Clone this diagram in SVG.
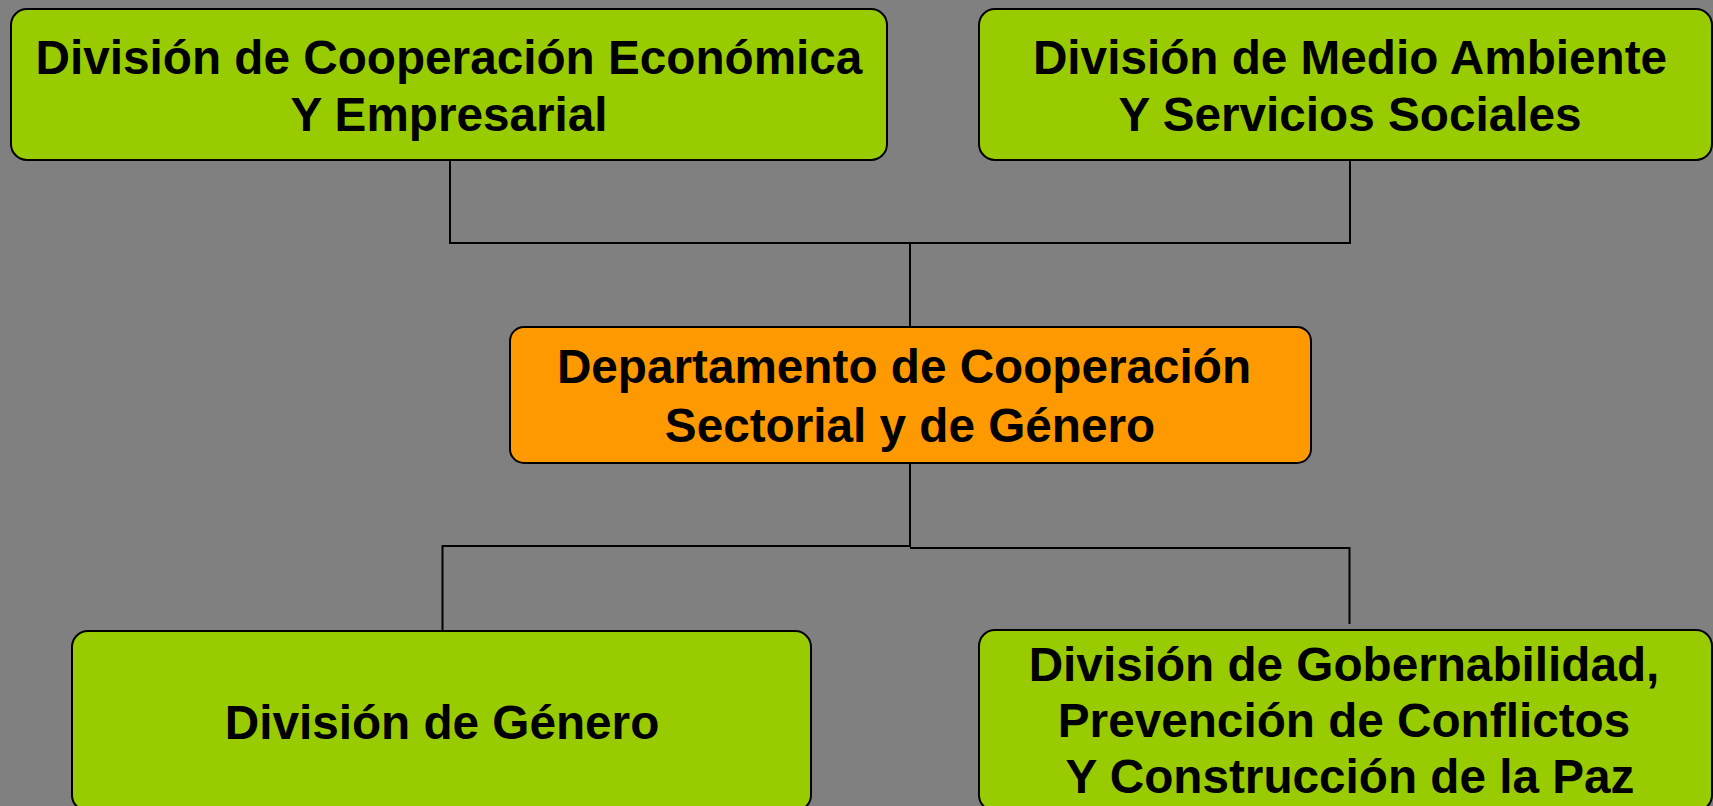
<svg xmlns="http://www.w3.org/2000/svg" width="1713" height="806" viewBox="0 0 1713 806">
<style>
.g{fill:#99cc00;stroke:#000;stroke-width:2}
.o{fill:#ff9900;stroke:#000;stroke-width:2}
.t{font-family:"Liberation Sans",Arial,sans-serif;font-weight:bold;font-size:47.7px;fill:#000;text-anchor:middle}
.c{fill:none;stroke:#000;stroke-width:2}
</style>
<rect width="1713" height="806" fill="#808080"/>
<g id="connectors">
<path class="c" d="M450,160 V243 H1350 V160"/>
<path class="c" d="M910,243 V327"/>
<path class="c" d="M910,456 V547"/>
<path class="c" d="M910,546 H442.5 V631"/>
<path class="c" d="M910,548 H1349.5 V624"/>
</g>
<g id="n1">
<rect class="g" x="11" y="9" width="876" height="151" rx="16"/>
<text class="t" x="449" y="74">División de Cooperación Económica</text>
<text class="t" x="449" y="131">Y Empresarial</text>
</g>
<g id="n2">
<rect class="g" x="979" y="9" width="733" height="151" rx="16"/>
<text class="t" x="1350" y="74">División de Medio Ambiente</text>
<text class="t" x="1350" y="131">Y Servicios Sociales</text>
</g>
<g id="n3">
<rect class="o" x="510" y="327" width="801" height="136" rx="14"/>
<text class="t" x="904" y="383">Departamento de Cooperación</text>
<text class="t" x="910" y="442">Sectorial y de Género</text>
</g>
<g id="n4">
<rect class="g" x="72" y="631" width="739" height="180" rx="16"/>
<text class="t" x="442" y="739">División de Género</text>
</g>
<g id="n5">
<rect class="g" x="979" y="630" width="733" height="181" rx="16"/>
<text class="t" x="1344" y="681">División de Gobernabilidad,</text>
<text class="t" x="1344" y="737">Prevención de Conflictos</text>
<text class="t" x="1350" y="793">Y Construcción de la Paz</text>
</g>
</svg>
